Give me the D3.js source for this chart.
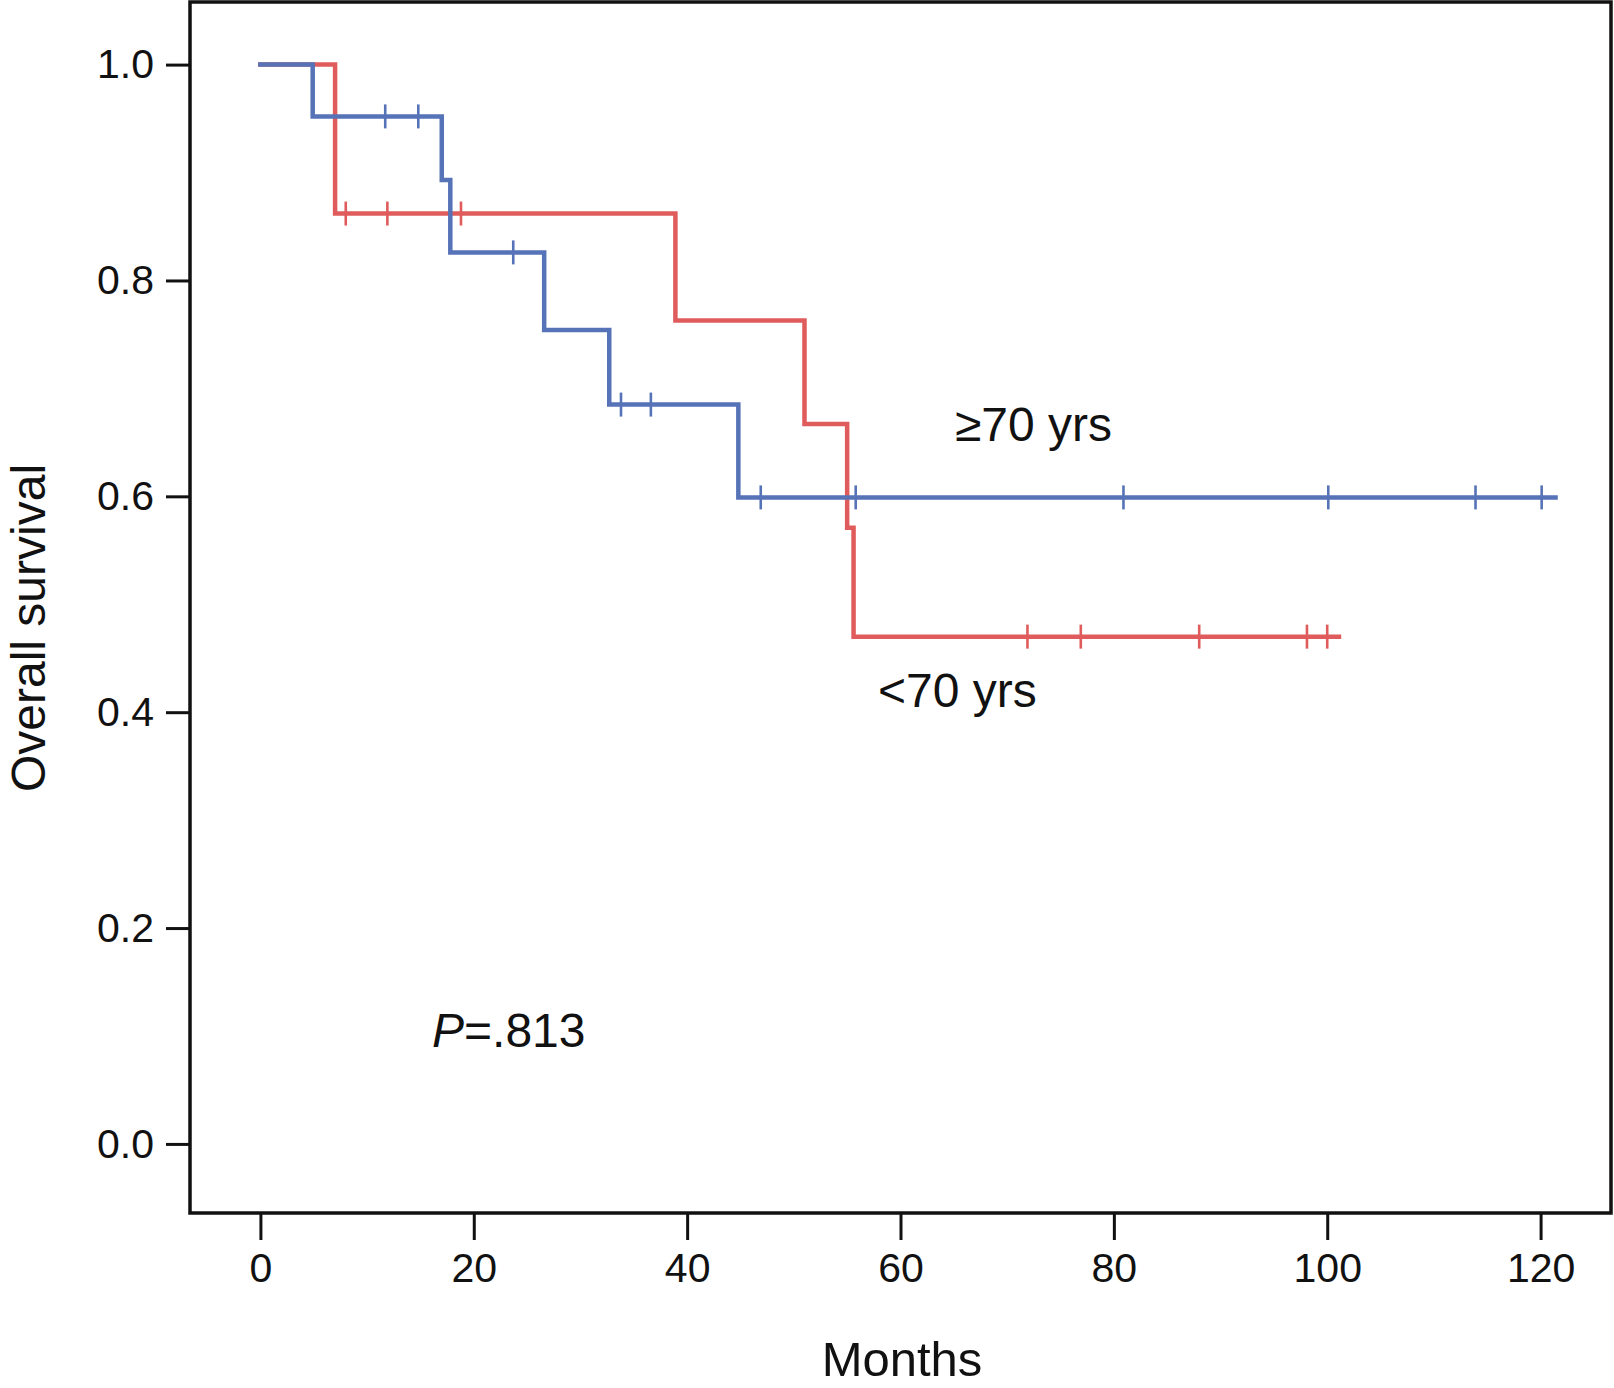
<!DOCTYPE html>
<html>
<head>
<meta charset="utf-8">
<script src="https://cdn.jsdelivr.net/npm/d3@7"></script>
<style>
  body { margin: 0; background: #fff; }
  text { font-family: "Liberation Sans", Arial, sans-serif; fill: #111; }
</style>
</head>
<body>
<div id="chart"></div>
<script>
// Kaplan-Meier step data
const oldTimes = [0, 4.9, 17.0, 17.8, 26.6, 32.7, 44.8];
const oldSurv = [1.0, 0.952, 0.893, 0.826, 0.754, 0.685, 0.599];
const oldCensor = [11.7, 14.8, 23.7, 33.8, 36.6, 46.9, 55.8, 80.9, 100.1, 113.9, 120.1];
const oldEnd = 121.4;

const youngTimes = [0, 7.0, 38.9, 51.0, 55.0, 55.6];
const youngSurv = [1.0, 0.862, 0.763, 0.667, 0.571, 0.470];
const youngCensor = [8.0, 11.9, 18.8, 71.9, 76.9, 88.0, 98.1, 100.0];
const youngEnd = 101.1;

const xTicks = [0, 20, 40, 60, 80, 100, 120];
const yTicks = [0, 0.2, 0.4, 0.6, 0.8, 1.0];

const W = 1614, H = 1388;
const box = { left: 190, right: 1611, top: 2, bottom: 1213 };

const svg = d3.select("#chart").append("svg")
  .attr("width", W).attr("height", H);

const x = d3.scaleLinear().domain([-6.6, 126.6]).range([box.left, box.right]);
const y = d3.scaleLinear().domain([-0.064, 1.058]).range([box.bottom, box.top]);

// axes
const xAxis = svg.append("g")
  .attr("transform", `translate(0,${box.bottom})`)
  .call(d3.axisBottom(x).tickValues(xTicks).tickSize(27).tickPadding(13).tickFormat(d3.format("d")));
xAxis.select(".domain").remove();
xAxis.selectAll("line").attr("stroke", "#111").attr("stroke-width", 3);
xAxis.selectAll("text").attr("font-size", 41).attr("fill", "#111")
  .attr("font-family", "Liberation Sans, Arial, sans-serif");

const yAxis = svg.append("g")
  .attr("transform", `translate(${box.left},0)`)
  .call(d3.axisLeft(y).tickValues(yTicks).tickSize(24).tickPadding(12).tickFormat(d3.format(".1f")));
yAxis.select(".domain").remove();
yAxis.selectAll("line").attr("stroke", "#111").attr("stroke-width", 3);
yAxis.selectAll("text").attr("font-size", 41).attr("fill", "#111")
  .attr("font-family", "Liberation Sans, Arial, sans-serif");

// frame
svg.append("rect")
  .attr("x", box.left).attr("y", box.top)
  .attr("width", box.right - box.left).attr("height", box.bottom - box.top)
  .attr("fill", "none").attr("stroke", "#111").attr("stroke-width", 3.5);

// build step points
function steps(times, surv, end) {
  const pts = [];
  times.forEach((t, i) => {
    if (i > 0) pts.push([t, surv[i - 1]]);
    pts.push([t, surv[i]]);
  });
  pts.push([end, surv[surv.length - 1]]);
  return pts;
}
function survAt(times, surv, t) {
  let v = surv[0];
  times.forEach((tt, i) => { if (tt <= t) v = surv[i]; });
  return v;
}

const line = d3.line().x(d => x(d[0])).y(d => y(d[1]));

const groups = [
  { times: youngTimes, surv: youngSurv, censor: youngCensor, end: youngEnd, color: "#e05c5c" },
  { times: oldTimes, surv: oldSurv, censor: oldCensor, end: oldEnd, color: "#5673b8" }
];

groups.forEach(g => {
  svg.append("path")
    .attr("d", line(steps(g.times, g.surv, g.end)))
    .attr("fill", "none")
    .attr("stroke", g.color)
    .attr("stroke-width", 4.5)
    .attr("stroke-linejoin", "miter")
    .attr("stroke-linecap", "square");

  svg.append("g")
    .selectAll("line")
    .data(g.censor)
    .enter()
    .append("line")
    .attr("x1", d => x(d)).attr("x2", d => x(d))
    .attr("y1", d => y(survAt(g.times, g.surv, d)) - 12)
    .attr("y2", d => y(survAt(g.times, g.surv, d)) + 12)
    .attr("stroke", g.color)
    .attr("stroke-width", 2.6);
});

// labels
svg.append("text").attr("x", 955).attr("y", 441).attr("font-size", 48).text("≥70 yrs");
svg.append("text").attr("x", 878).attr("y", 707).attr("font-size", 48).text("<70 yrs");

const p = svg.append("text").attr("x", 432).attr("y", 1047).attr("font-size", 48);
p.append("tspan").attr("font-style", "italic").text("P");
p.append("tspan").text("=.813");

// axis titles
svg.append("text")
  .attr("x", 902).attr("y", 1376)
  .attr("text-anchor", "middle").attr("font-size", 49).text("Months");

svg.append("text")
  .attr("transform", `translate(45,628) rotate(-90)`)
  .attr("text-anchor", "middle").attr("font-size", 48).text("Overall survival");
</script>
</body>
</html>
